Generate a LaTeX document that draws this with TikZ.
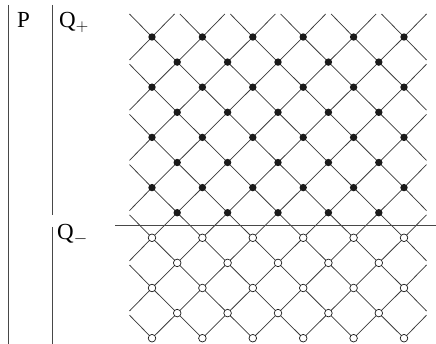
\documentclass[tikz,border=0pt]{standalone}
\usepackage{fontspec}
\setmainfont{Liberation Serif}
\usepackage{tikz}
\usetikzlibrary{calc}
\definecolor{ink}{HTML}{1A1A1A}
\definecolor{mesh}{HTML}{3A3A3A}

\begin{document}
\begin{tikzpicture}[
  x=1pt, y=-1pt,
  bdot/.style={circle, fill=ink, inner sep=0pt, minimum size=7.4pt},
  wdot/.style={circle, draw=ink, fill=white, line width=0.7pt, inner sep=0pt, minimum size=7.6pt},
  link/.style={draw=mesh, line width=0.75pt},
  rule/.style={draw=ink!80, line width=0.9pt},
  lab/.style={anchor=base west, inner sep=0pt, font=\fontsize{23}{25}\selectfont}
]
\useasboundingbox (0,0) rectangle (436,344);

% lattice points
\foreach \r in {0,...,12}{
  \foreach \c in {0,...,10}{
    \pgfmathtruncatemacro\parity{mod(\r+\c,2)}
    \ifnum\parity=0
      \coordinate (p-\r-\c) at ({152+25.2*\c},{37+25.1*\r});
    \fi
  }
}

% links between neighbours
\foreach \r in {0,...,11}{
  \foreach \c in {0,...,10}{
    \pgfmathtruncatemacro\parity{mod(\r+\c,2)}
    \pgfmathtruncatemacro\rn{\r+1}
    \pgfmathtruncatemacro\cl{\c-1}
    \pgfmathtruncatemacro\cr{\c+1}
    \ifnum\parity=0
      \ifnum\c>0 \draw[link] (p-\r-\c) -- (p-\rn-\cl); \fi
      \ifnum\c<10 \draw[link] (p-\r-\c) -- (p-\rn-\cr); \fi
    \fi
  }
}

% loose ends on the border
\foreach \c in {0,2,...,10}{
  \draw[link] (p-0-\c) -- ++(-22.5,-23);
  \draw[link] (p-0-\c) -- ++(22.5,-23);
}
\foreach \r in {2,4,...,12}{
  \draw[link] (p-\r-0) -- ++(-22.5,-23);
  \draw[link] (p-\r-10) -- ++(22.5,-23);
}
\foreach \r in {0,2,...,10}{
  \draw[link] (p-\r-0) -- ++(-22.5,23);
  \draw[link] (p-\r-10) -- ++(22.5,23);
}

% cut
\coordinate (cut-w) at (115,225);
\coordinate (cut-e) at (436,225);
\draw[rule] (cut-w) -- (cut-e);

% dots
\foreach \r in {0,...,12}{
  \foreach \c in {0,...,10}{
    \pgfmathtruncatemacro\parity{mod(\r+\c,2)}
    \ifnum\parity=0
      \ifnum\r<8
        \node[bdot] (d-\r-\c) at (p-\r-\c) {};
      \else
        \node[wdot] (d-\r-\c) at (p-\r-\c) {};
      \fi
    \fi
  }
}

% brackets and labels
\coordinate (pa) at (8,5);
\coordinate (pb) at (8,344);
\coordinate (qa) at (52,5);
\coordinate (qb) at (52,215);
\coordinate (qc) at (52,227);
\coordinate (qd) at (52,344);
\draw[rule] (pa) -- (pb);
\draw[rule] (qa) -- (qb);
\draw[rule] (qc) -- (qd);

\node[lab] (lp) at (17,28) {P};
\node[lab] (lqp) at (59,28) {Q$_{+}$};
\node[lab] (lqm) at (57,240) {Q$_{-}$};
\end{tikzpicture}
\end{document}
